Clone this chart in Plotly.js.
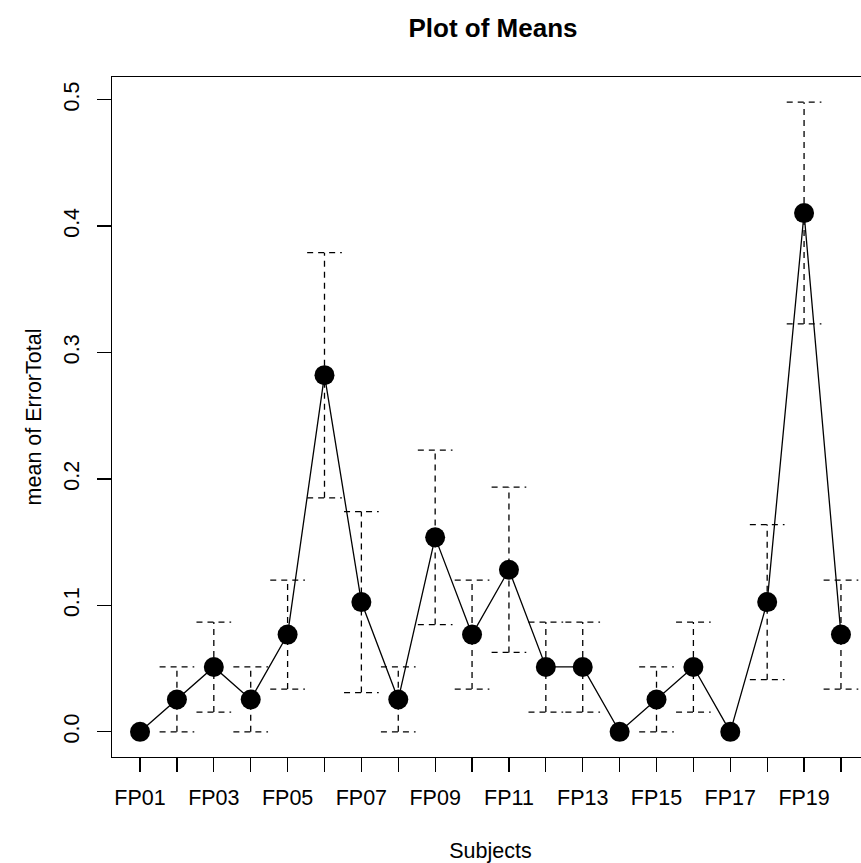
<!DOCTYPE html>
<html>
<head>
<meta charset="utf-8">
<script src="https://cdn.plot.ly/plotly-3.0.1.min.js"></script>
<style>
html,body{margin:0;padding:0;overflow:hidden;background:#fff;}
#chart{width:880px;height:863px;}
</style>
</head>
<body>
<div id="chart"></div>
<script>
// ---- data ----
const subjects = ["FP01","FP02","FP03","FP04","FP05","FP06","FP07","FP08","FP09","FP10",
                  "FP11","FP12","FP13","FP14","FP15","FP16","FP17","FP18","FP19","FP20"];
const means = [0.0000,0.0256,0.0513,0.0256,0.0769,0.2821,0.1026,0.0256,0.1538,0.0769,
               0.1282,0.0513,0.0513,0.0000,0.0256,0.0513,0.0000,0.1026,0.4103,0.0769];
const upper = [0.0000,0.0513,0.0868,0.0513,0.1199,0.3790,0.1742,0.0513,0.2228,0.1199,
               0.1936,0.0868,0.0868,0.0000,0.0513,0.0868,0.0000,0.1639,0.4980,0.1199];
const lower = [0.0000,0.0000,0.0156,0.0000,0.0338,0.1851,0.0310,0.0000,0.0848,0.0338,
               0.0628,0.0156,0.0156,0.0000,0.0000,0.0156,0.0000,0.0412,0.3226,0.0338];
const yTicks = [0, 0.1, 0.2, 0.3, 0.4, 0.5];
const yTickText = ["0.0","0.1","0.2","0.3","0.4","0.5"];

// ---- build ----
const xs = subjects.map((s,i)=>i+1);
const xTickText = subjects.map((s,i)=> i % 2 === 0 ? s : "");
const capHalf = 0.47;

const ex = [], ey = [];
for (let i = 0; i < xs.length; i++) {
  if (upper[i] === lower[i]) continue;
  const x = xs[i];
  ex.push(x, x, null, x - capHalf, x + capHalf, null, x - capHalf, x + capHalf, null);
  ey.push(lower[i], upper[i], null, upper[i], upper[i], null, lower[i], lower[i], null);
}

const n = xs.length;
const ymax = Math.max(...upper), ymin = Math.min(0, ...lower);
const ypad = 0.04 * (ymax - ymin);
const xpad = 0.04 * (n - 1);

const FONT = "Liberation Sans, Arial, Helvetica, sans-serif";

const traces = [
  {
    x: xs, y: means, type: "scatter", mode: "lines+markers",
    line: {color: "#000", width: 1.3},
    marker: {color: "#000", size: 20, symbol: "circle"},
    hoverinfo: "x+y", showlegend: false, cliponaxis: false
  },
  {
    x: ex, y: ey, type: "scatter", mode: "lines",
    line: {color: "#000", width: 1.3, dash: "6px,5px"},
    connectgaps: false, hoverinfo: "skip", showlegend: false
  }
];

const layout = {
  width: 880, height: 863,
  margin: {l: 112, r: 11, t: 77, b: 106},
  paper_bgcolor: "#fff", plot_bgcolor: "#fff",
  font: {family: FONT, size: 21.5, color: "#000"},
  title: {text: "<b>Plot of Means</b>", font: {family: FONT, size: 26, color: "#000"},
          x: 493/880, xanchor: "center", y: 1 - 28/863, yanchor: "middle", yref: "container"},
  xaxis: {
    range: [1 - xpad, n + xpad],
    tickmode: "array", tickvals: xs, ticktext: xTickText,
    ticks: "outside", ticklen: 14, tickwidth: 1.3, tickcolor: "#000",
    showline: true, mirror: true, linecolor: "#000", linewidth: 1.3,
    showgrid: false, zeroline: false, tickangle: 0,
    ticklabelstandoff: 7,
    tickfont: {family: FONT, size: 21.5, color: "#000"},
    title: {text: "Subjects", font: {family: FONT, size: 21.5, color: "#000"}, standoff: 36}
  },
  yaxis: {
    range: [ymin - ypad, ymax + ypad],
    tickmode: "array", tickvals: yTicks, ticktext: yTickText,
    ticks: "outside", ticklen: 14, tickwidth: 1.3, tickcolor: "#000",
    showline: true, mirror: true, linecolor: "#000", linewidth: 1.3,
    showgrid: false, zeroline: false, tickangle: -90,
    ticklabelstandoff: 9,
    tickfont: {family: FONT, size: 21.5, color: "#000"},
    title: {text: "mean of ErrorTotal", font: {family: FONT, size: 21.5, color: "#000"}, standoff: 12}
  },
  showlegend: false
};

Plotly.newPlot("chart", traces, layout, {displayModeBar: false, staticPlot: true});
</script>
</body>
</html>
